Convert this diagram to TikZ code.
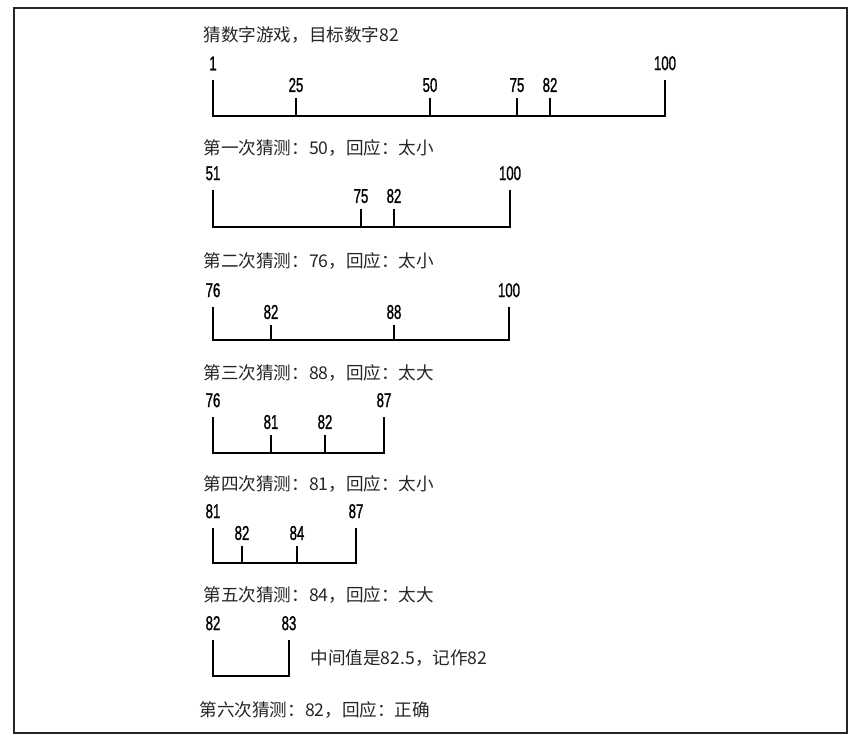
\documentclass[tikz,border=0pt]{standalone}
\usepackage{fontspec}
\newfontfamily\cjk{Noto Sans CJK SC}
\newfontfamily\numfont[FakeStretch=0.66, FakeBold=1.2]{Liberation Sans}
\usetikzlibrary{positioning}

\begin{document}
\begin{tikzpicture}[x=0.5pt, y=-0.5pt,
    frame/.style={draw=black!85, line width=0.6pt},
    axis/.style={line width=1.3pt},
    caption/.style={font=\cjk\fontsize{8.8}{10}\selectfont, anchor=west, inner sep=0pt, text=black!85},
    num/.style={font=\numfont\fontsize{10}{11}\selectfont, inner sep=0pt},
    endnum/.style={num, above=4.2pt},
    ticknum/.style={num, above=2.3pt},
]
\useasboundingbox (0,0) rectangle (865,743);
\draw[frame] (14,8) rectangle (847,733);

% ===== START: 1 .. 100 =====
\node[caption] (title0) at (203,35) {猜数字游戏，目标数字82};
\coordinate (left0) at (213,116);
\coordinate (right0) at (665,116);
\draw[axis] (left0) ++(0,-36) node[endnum] (lo0) {1} -- (left0) -- (right0) -- ++(0,-36) node[endnum] (hi0) {100};
\foreach \x/\v in {296/25, 430/50, 517/75, 550/82}
  \draw[axis] (\x,116) -- (\x,98) node[ticknum] (tick0-\v) {\v};

% ===== GUESS 1 =====
\node[caption] (title1) at (203,148) {第一次猜测：50，回应：太小};
\coordinate (left1) at (213,227);
\coordinate (right1) at (510,227);
\draw[axis] (left1) ++(0,-37) node[endnum] (lo1) {51} -- (left1) -- (right1) -- ++(0,-37) node[endnum] (hi1) {100};
\foreach \x/\v in {361/75, 394/82}
  \draw[axis] (\x,227) -- (\x,209) node[ticknum] (tick1-\v) {\v};

% ===== GUESS 2 =====
\node[caption] (title2) at (203,261) {第二次猜测：76，回应：太小};
\coordinate (left2) at (213,340);
\coordinate (right2) at (509,340);
\draw[axis] (left2) ++(0,-33) node[endnum] (lo2) {76} -- (left2) -- (right2) -- ++(0,-33) node[endnum] (hi2) {100};
\foreach \x/\v in {271/82, 394/88}
  \draw[axis] (\x,340) -- (\x,325) node[ticknum] (tick2-\v) {\v};

% ===== GUESS 3 =====
\node[caption] (title3) at (203,373) {第三次猜测：88，回应：太大};
\coordinate (left3) at (213,453);
\coordinate (right3) at (384,453);
\draw[axis] (left3) ++(0,-36) node[endnum] (lo3) {76} -- (left3) -- (right3) -- ++(0,-36) node[endnum] (hi3) {87};
\foreach \x/\v in {271/81, 325/82}
  \draw[axis] (\x,453) -- (\x,435) node[ticknum] (tick3-\v) {\v};

% ===== GUESS 4 =====
\node[caption] (title4) at (203,484) {第四次猜测：81，回应：太小};
\coordinate (left4) at (213,563);
\coordinate (right4) at (356,563);
\draw[axis] (left4) ++(0,-35) node[endnum] (lo4) {81} -- (left4) -- (right4) -- ++(0,-35) node[endnum] (hi4) {87};
\foreach \x/\v in {242/82, 297/84}
  \draw[axis] (\x,563) -- (\x,546) node[ticknum] (tick4-\v) {\v};

% ===== GUESS 5 =====
\node[caption] (title5) at (203,595) {第五次猜测：84，回应：太大};
\coordinate (left5) at (213,676);
\coordinate (right5) at (289,676);
\draw[axis] (left5) ++(0,-36) node[endnum] (lo5) {82} -- (left5) -- (right5) -- ++(0,-36) node[endnum] (hi5) {83};
\node[caption] (note5) at (310,658) {中间值是82.5，记作82};

% ===== GUESS 6 =====
\node[caption] (title6) at (199,710) {第六次猜测：82，回应：正确};

\end{tikzpicture}
\end{document}
